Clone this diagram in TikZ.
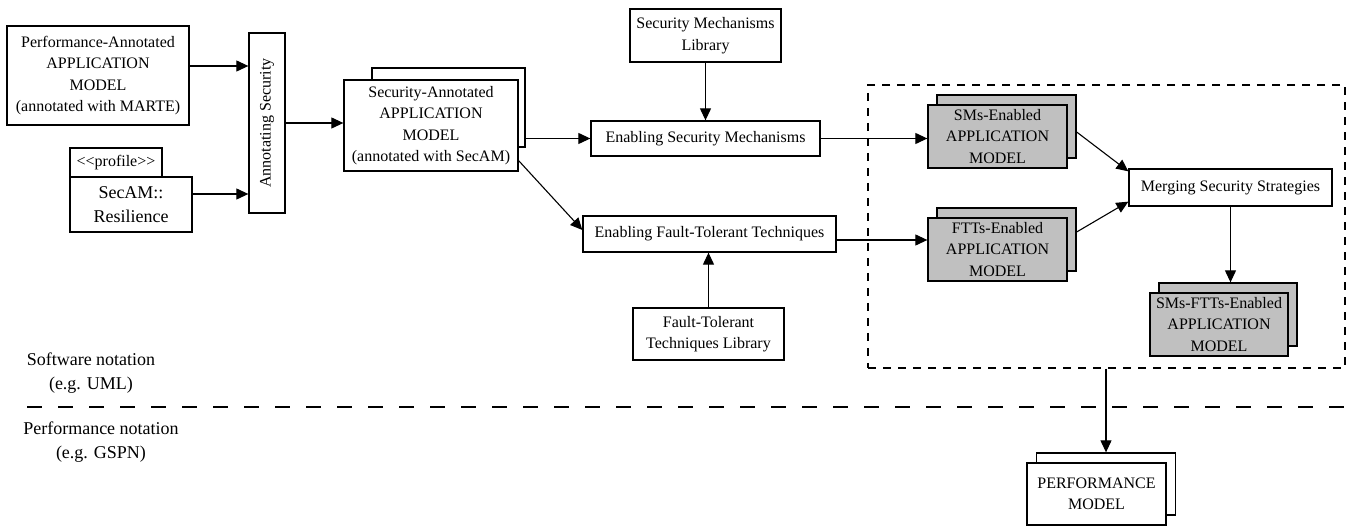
\documentclass[tikz,border=0pt]{standalone}
\usepackage{fontspec}
\setmainfont{Liberation Serif}
\usepackage{tikz}
\usetikzlibrary{arrows.meta,shadows}
\definecolor{smgray}{RGB}{192,192,192}
\tikzset{
BOX/.style ={draw=black,fill=white,line width=1.3pt,inner sep=0pt,align=center},
WBOX/.style={BOX,copy shadow={shadow xshift=9.5pt,shadow yshift=10pt,draw=black,fill=white,line width=1.3pt}},
GBOX/.style={BOX,fill=smgray,copy shadow={shadow xshift=9pt,shadow yshift=10pt,draw=black,fill=smgray,line width=1.3pt}},
ARROW/.style={draw=black,line width=1.1pt,-{Triangle[length=12pt,width=11pt]}},
FRAME/.style={draw=black,line width=1.1pt,dash pattern=on 8pt off 7pt,inner sep=0pt},
SEP/.style ={draw=black,line width=1.1pt,dash pattern=on 15pt off 16pt},
BIG/.style ={font=\fontsize{18}{24}\selectfont},
}
\begin{document}
\begin{tikzpicture}[x=1pt,y=-1pt,font=\fontsize{16}{21.5}\selectfont] %security annotation flow
	\useasboundingbox (0,0) rectangle (1358,526);
	\node[FRAME,minimum width=477pt,minimum height=283pt] (frame) at (1106.5,226.5) {};
	\draw[SEP] (27,407) -- (1358,407);
	\node[BOX,minimum width=182pt,minimum height=99pt] (pa) at (98,75.5) {Performance-Annotated\\APPLICATION\\MODEL\\(annotated with MARTE)};
	\node[BOX,rotate=90,minimum width=180pt,minimum height=36pt] (annot) at (267,123) {Annotating Security};
	\node[BOX,minimum width=92pt,minimum height=29pt] (tab) at (116,162.5) {<{}<profile>{}>};
	\node[BOX,BIG,minimum width=122pt,minimum height=55pt] (secam) at (131,204.5) {SecAM::\\Resilience};
	\draw[BOX] (372,68) rectangle (525,147);
	\node[BOX,minimum width=174pt,minimum height=91pt] (sa) at (431,125.5) {Security-Annotated\\APPLICATION\\MODEL\\(annotated with SecAM)};
	\node[BOX,minimum width=151pt,minimum height=53pt] (sml) at (705.5,35.5) {Security Mechanisms\\Library};
	\node[BOX,minimum width=229pt,minimum height=35pt] (esm) at (705.5,138.5) {Enabling Security Mechanisms};
	\node[BOX,minimum width=253pt,minimum height=36pt] (eft) at (709.5,234) {Enabling Fault-Tolerant Techniques};
	\node[BOX,minimum width=151pt,minimum height=52pt] (ftl) at (708.5,334) {Fault-Tolerant\\Techniques Library};
	\node[GBOX,minimum width=139pt,minimum height=63pt] (sms) at (997.5,136.5) {SMs-Enabled\\APPLICATION\\MODEL};
	\node[GBOX,minimum width=139pt,minimum height=63pt] (ftt) at (997.5,249.5) {FTTs-Enabled\\APPLICATION\\MODEL};
	\node[BOX,minimum width=203pt,minimum height=37pt] (mss) at (1230.5,187.5) {Merging Security Strategies};
	\node[GBOX,minimum width=138pt,minimum height=63pt] (sft) at (1219,324.5) {SMs-FTTs-Enabled\\APPLICATION\\MODEL};
	\node[WBOX,minimum width=139pt,minimum height=62pt] (pm) at (1096.5,494) {PERFORMANCE\\MODEL};
	\node[BIG,align=center] (sw) at (91,373.5) {Software notation\\(e.g. UML)};
	\node[BIG,align=center] (pn) at (101,442) {Performance notation\\(e.g. GSPN)};
	\draw[ARROW] ([yshift=9.5pt]pa.east) -- ([yshift=9.5pt]pa.east -| annot.north);
	\draw[ARROW] ([yshift=10.5pt]secam.east) -- ([yshift=10.5pt]secam.east -| annot.north);
	\draw[ARROW] (annot.south) -- (annot.south -| sa.west);
	\draw[ARROW] ([xshift=7pt]sa.east |- esm.west) -- (esm.west);
	\draw[ARROW] ([yshift=11pt]sa.south east) -- ([yshift=4pt]eft.west);
	\draw[ARROW] (sml.south) -- (sml.south |- esm.north);
	\draw[ARROW] (ftl.north) -- (ftl.north |- eft.south);
	\draw[ARROW] (esm.east) -- (esm.east -| sms.west);
	\draw[ARROW] ([yshift=-6pt]eft.east) -- ([yshift=-6pt]eft.east -| ftt.west);
	\draw[ARROW] ([xshift=9pt,yshift=4.5pt]sms.east) -- ([yshift=-3pt]mss.north west);
	\draw[ARROW] ([xshift=9pt,yshift=17.5pt]ftt.east) -- ([yshift=5pt]mss.south west);
	\coordinate (sfttop) at ([xshift=9pt,yshift=10pt]sft.north);
	\draw[ARROW] (mss.south) -- (mss.south |- sfttop);
	\coordinate (pmtop) at ([xshift=9.5pt,yshift=10pt]pm.north);
	\draw[ARROW] (frame.south -| pmtop) -- (pmtop);
\end{tikzpicture}
\end{document}
